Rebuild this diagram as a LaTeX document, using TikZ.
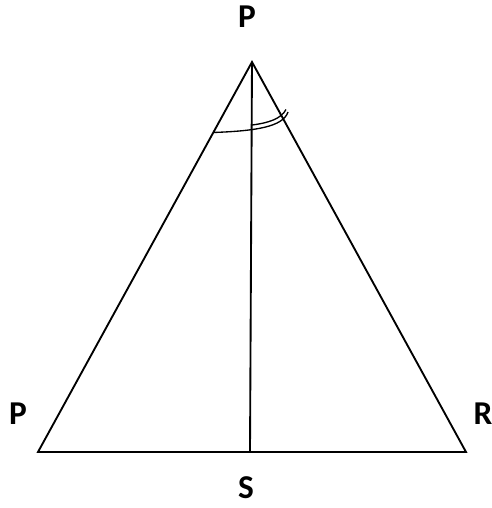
\documentclass[tikz,border=0pt]{standalone}
\usepackage{fontspec}
\setmainfont{Carlito}
\usetikzlibrary{positioning}

\begin{document}
\begin{tikzpicture}[x=0.75pt,y=-0.75pt,line width=1.4pt,
  every node/.style={inner sep=0pt,font=\bfseries\fontsize{25}{30}\selectfont}]
\useasboundingbox (0,0) rectangle (492,508);
% vertices
\coordinate (A) at (252,62);
\coordinate (B) at (38,452);
\coordinate (C) at (466,452);
\coordinate (S) at (250,452);
% triangle and median
\draw (A) -- (B) -- (C) -- cycle;
\draw (A) -- (S);
% angle marks
\draw[line width=1pt] (213,132.5) .. controls (255,131) and (283,127) .. (288,112);
\draw[line width=1pt] (252,125) .. controls (268,123) and (281,119) .. (286,109.5);
% labels
\node (lA) at (247,17) {P};
\node (lB) at (18,414) {P};
\node (lC) at (483,414) {R};
\node (lS) at (246,488) {S};
\end{tikzpicture}
\end{document}
